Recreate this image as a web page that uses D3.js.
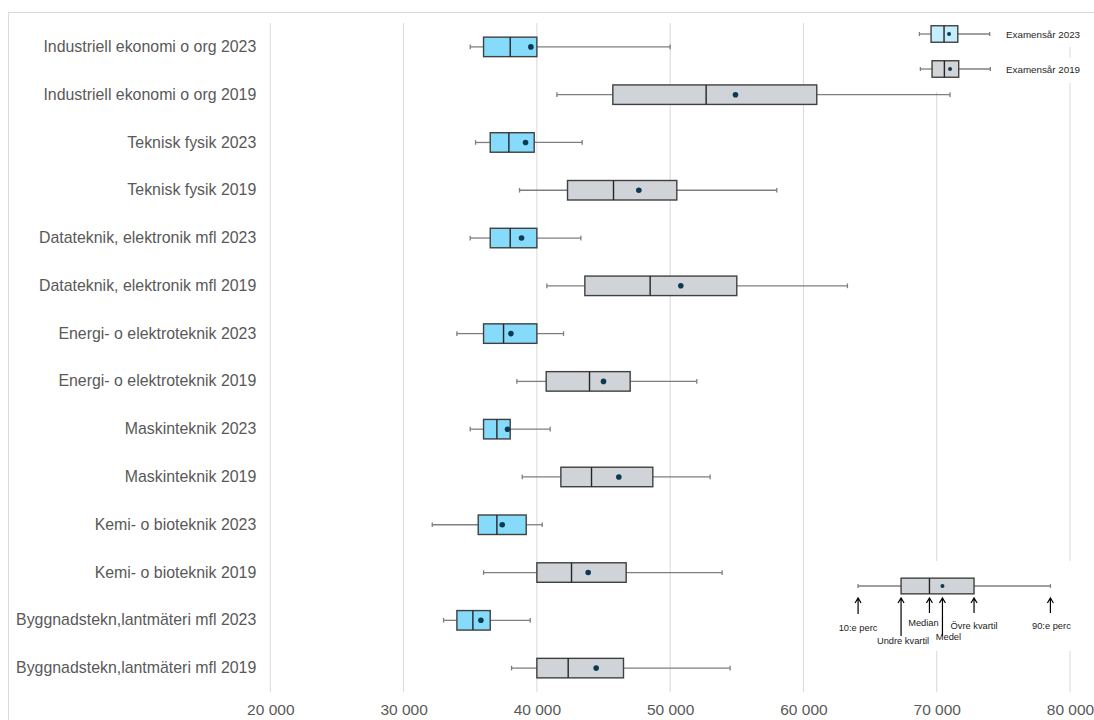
<!DOCTYPE html>
<html>
<head>
<meta charset="utf-8">
<script src="https://cdn.jsdelivr.net/npm/d3@7"></script>
<style>
  body { margin: 0; background: #fff; }
  svg { display: block; }
</style>
</head>
<body>
<div id="chart"></div>
<script>
'use strict';

// salary distributions per programme and graduation year
const categories = [
  "Industriell ekonomi o org 2023",
  "Industriell ekonomi o org 2019",
  "Teknisk fysik 2023",
  "Teknisk fysik 2019",
  "Datateknik, elektronik mfl 2023",
  "Datateknik, elektronik mfl 2019",
  "Energi- o elektroteknik 2023",
  "Energi- o elektroteknik 2019",
  "Maskinteknik 2023",
  "Maskinteknik 2019",
  "Kemi- o bioteknik 2023",
  "Kemi- o bioteknik 2019",
  "Byggnadstekn,lantmäteri mfl 2023",
  "Byggnadstekn,lantmäteri mfl 2019"
];
const years  = ["2023","2019","2023","2019","2023","2019","2023","2019","2023","2019","2023","2019","2023","2019"];
const p10    = [35000, 41500, 35400, 38700, 35000, 40750, 34000, 38500, 35000, 38900, 32150, 36000, 33000, 38100];
const q1     = [36000, 45700, 36500, 42300, 36500, 43600, 36000, 40700, 36000, 41800, 35600, 40000, 34000, 40000];
const median = [38000, 52700, 37900, 45750, 38000, 48500, 37500, 43950, 37000, 44100, 37000, 42600, 35200, 42350];
const q3     = [40000, 61000, 39800, 50500, 40000, 55000, 40000, 47000, 38000, 48700, 39200, 46700, 36500, 46500];
const p90    = [50000, 71000, 43400, 58000, 43300, 63300, 42000, 52000, 41000, 53000, 40400, 53900, 39500, 54500];
const mean   = [39550, 54900, 39150, 47650, 38850, 50800, 38050, 45000, 37800, 46150, 37400, 43850, 35800, 44450];

const xTicks = [20000, 30000, 40000, 50000, 60000, 70000, 80000];

// legend glyphs (values on the same salary axis)
const legendLabels = ["Examensår 2023", "Examensår 2019"];
const legendYears  = ["2023", "2019"];
const legendStats  = [
  [68700, 69575, 70550, 71580, 73975, 70925],
  [68775, 69650, 70575, 71650, 74025, 71000]
];

// explanation glyph: p10, q1, median, q3, p90, mean
const keyStats  = [64100, 67325, 69455, 72800, 78530, 70430];
const keyLabels = ["10:e perc", "Undre kvartil", "Median", "Övre kvartil", "90:e perc", "Medel"];

const W = 1094, H = 720;
const fills = {"2023": "#85dbf9", "2019": "#d0d3d8"};
const legendFills = {"2023": "#c4eefc", "2019": "#d2d4d8"};

const svg = d3.select("#chart").append("svg")
  .attr("width", W).attr("height", H);

// outer frame
svg.append("rect")
  .attr("x", 8.5).attr("y", 12.5)
  .attr("width", 1200).attr("height", 800)
  .attr("fill", "none").attr("stroke", "#d9d9d9");

var x = d3.scaleLinear().domain([20000, 80000]).range([270.3, 1070]);
var y = d3.scaleBand().domain(categories).range([23, 692]);

// gridlines
svg.append("g")
  .selectAll("line")
  .data(xTicks)
  .enter().append("line")
    .attr("x1", d => x(d)).attr("x2", d => x(d))
    .attr("y1", 23).attr("y2", 692)
    .attr("stroke", "#d9d9d9").attr("stroke-width", 1);

// x axis labels
var xAxis = svg.append("g")
  .attr("transform", "translate(0,692)")
  .call(d3.axisBottom(x).tickValues(xTicks).tickSize(0).tickPadding(12)
    .tickFormat(d => d3.format(",")(d).replace(/,/g, " ")));
xAxis.select(".domain").remove();
xAxis.selectAll("text")
  .attr("font-family", "'Liberation Sans', Arial, sans-serif")
  .attr("font-size", 15.5).attr("fill", "#595959");

// y axis labels
var yAxis = svg.append("g")
  .attr("transform", "translate(270.3,0)")
  .call(d3.axisLeft(y).tickSize(0).tickPadding(14));
yAxis.select(".domain").remove();
yAxis.selectAll("text")
  .attr("font-family", "'Liberation Sans', Arial, sans-serif")
  .attr("font-size", 15.9).attr("fill", "#595959");

// draws one box glyph; s = [p10, q1, median, q3, p90, mean]
function drawBox(g, s, cy, h, fill, dotR) {
  const capH = h * 0.24;
  g.append("line")
    .attr("x1", x(s[0])).attr("x2", x(s[1]))
    .attr("y1", cy).attr("y2", cy)
    .attr("stroke", "#7f7f7f").attr("stroke-width", 1.3);
  g.append("line")
    .attr("x1", x(s[3])).attr("x2", x(s[4]))
    .attr("y1", cy).attr("y2", cy)
    .attr("stroke", "#7f7f7f").attr("stroke-width", 1.3);
  [s[0], s[4]].forEach(function(v) {
    g.append("line")
      .attr("x1", x(v)).attr("x2", x(v))
      .attr("y1", cy - capH / 2).attr("y2", cy + capH / 2)
      .attr("stroke", "#7f7f7f").attr("stroke-width", 1.3);
  });
  g.append("rect")
    .attr("x", x(s[1])).attr("y", cy - h / 2)
    .attr("width", x(s[3]) - x(s[1])).attr("height", h)
    .attr("fill", fill).attr("stroke", "#404040").attr("stroke-width", 1.4);
  g.append("line")
    .attr("x1", x(s[2])).attr("x2", x(s[2]))
    .attr("y1", cy - h / 2).attr("y2", cy + h / 2)
    .attr("stroke", "#262626").attr("stroke-width", 1.4);
  g.append("circle")
    .attr("cx", x(s[5])).attr("cy", cy).attr("r", dotR)
    .attr("fill", "#0b3a52");
}

// boxes
var boxes = svg.append("g");
categories.forEach(function(c, i) {
  drawBox(boxes, [p10[i], q1[i], median[i], q3[i], p90[i], mean[i]],
    y(c) + y.bandwidth() / 2, 19.5, fills[years[i]], 2.8);
});

// top-right legend
var legend = svg.append("g");
legend.append("rect").attr("x", 912).attr("y", 23).attr("width", 86).attr("height", 69).attr("fill", "#fff");
const legendY = [34, 69];
legendLabels.forEach(function(lbl, i) {
  legend.append("rect").attr("x", 1000).attr("y", legendY[i] - 11)
    .attr("width", 94).attr("height", i === 0 ? 24 : 25).attr("fill", "#fff");
  drawBox(legend, legendStats[i], legendY[i], 16.5, legendFills[legendYears[i]], 2);
  legend.append("text")
    .attr("x", 1006).attr("y", legendY[i] + 3.5)
    .attr("font-family", "'Liberation Sans', Arial, sans-serif")
    .attr("font-size", 9.8).attr("fill", "#262626")
    .text(lbl);
});

// explanation glyph, bottom right
var key = svg.append("g");
key.append("rect").attr("x", 835).attr("y", 561).attr("width", 259).attr("height", 90).attr("fill", "#fff");
drawBox(key, keyStats, 586, 15.7, "#d0d3d8", 2);

// arrow lengths and label placement for each key entry
const keyLayout = [
  {bottom: 614, labelY: 627, dx: 0},
  {bottom: 636, labelY: 640, dx: 2},
  {bottom: 613, labelY: 622, dx: -6},
  {bottom: 613, labelY: 625, dx: 0},
  {bottom: 613, labelY: 625, dx: 1},
  {bottom: 636, labelY: 636, dx: 6}
];
keyStats.forEach(function(v, i) {
  const ax = x(v), top = 598, L = keyLayout[i];
  key.append("path")
    .attr("d", "M" + ax + "," + L.bottom + "L" + ax + "," + top +
      "M" + (ax - 3) + "," + (top + 5) + "L" + ax + "," + top + "L" + (ax + 3) + "," + (top + 5))
    .attr("fill", "none").attr("stroke", "#000").attr("stroke-width", 1.2);
  key.append("text")
    .attr("x", ax + L.dx).attr("y", L.labelY + 3.5)
    .attr("text-anchor", "middle")
    .attr("font-family", "'Liberation Sans', Arial, sans-serif")
    .attr("font-size", 9.3).attr("fill", "#1a1a1a")
    .text(keyLabels[i]);
});
</script>
</body>
</html>
